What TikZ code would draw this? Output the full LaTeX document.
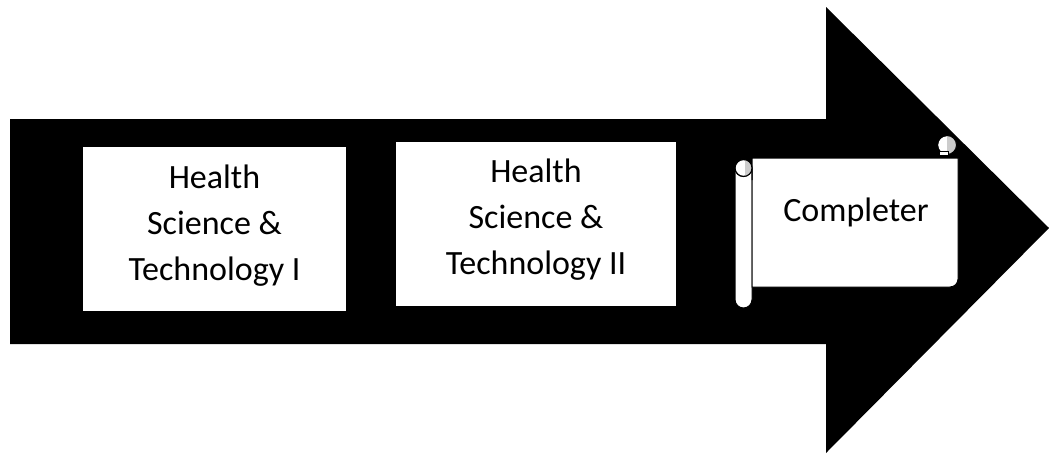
\documentclass[tikz,border=0pt]{standalone}
\usepackage{fontspec}
\setmainfont{Carlito}
\begin{document}
\begin{tikzpicture}[x=1pt,y=-1pt,
        card/.style={fill=white},
        boxtext/.style={align=center,font=\fontsize{34}{46}\selectfont},
        paper/.style={draw=black,fill=white,line width=1pt},
        curl/.style={fill=gray!40}]
    \useasboundingbox (0,0) rectangle (1049,453);

    % big arrow
    \fill (10,119) -- (826,119) -- (826,7) -- (1049,228) -- (826,453) -- (826,344) -- (10,344) -- cycle;

    \fill[card] (83,147) rectangle (346,311);
    \node[boxtext] (hst1) at (214.5,226) {Health\\Science \&\\Technology I};

    \fill[card] (396,142) rectangle (676,306);
    \node[boxtext] (hst2) at (536,220) {Health\\Science \&\\Technology II};

    % scroll
    \draw[paper,rounded corners=8.5pt] (735,160) rectangle (752,308);
    \draw[paper] (752,158) -- (958,158) -- (958,279) arc (0:90:8) -- (752,287) -- cycle;
    % top right curl
    \draw[paper] (947,145) circle (9.5);
    \fill[curl] (947,135.5) arc (-90:90:9.5) -- cycle;
    \draw[line width=1pt] (947,145) circle (9.5);
    \draw[paper] (939,151) rectangle (948,155);
    % left curl
    \draw[paper] (743.5,168) circle (8.5);
    \fill[curl] (745,160) arc (-80:80:8.2) -- cycle;
    \draw[line width=1pt] (743.5,168) circle (8.5) (752,168) -- (752,180);
    \node[boxtext] (done) at (856,212) {Completer};
\end{tikzpicture}
\end{document}
